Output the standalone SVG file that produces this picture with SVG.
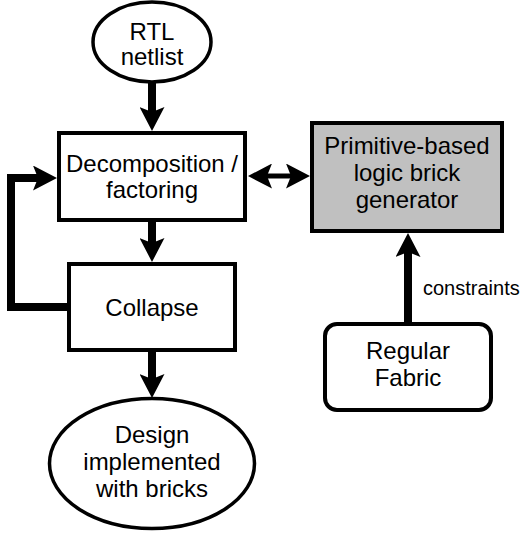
<svg xmlns="http://www.w3.org/2000/svg" width="525" height="533" viewBox="0 0 525 533">
<style>
.n{fill:#fff;stroke:#000;stroke-width:4}
.g{fill:#c0c0c0;stroke:#000;stroke-width:4}
.e{fill:#fff;stroke:#000;stroke-width:3.5}
.t{font-family:"Liberation Sans",Arial,sans-serif;font-size:24px;fill:#000;text-anchor:middle}
.c{fill:none;stroke:#000;stroke-width:8;stroke-linejoin:miter}
</style>
<defs>
<marker id="ah" viewBox="0 0 24 25" refX="5" refY="12.5" markerWidth="24" markerHeight="25" markerUnits="userSpaceOnUse" orient="auto-start-reverse">
<path d="M0,0 L24,12.5 L0,25 L5,12.5 Z" fill="#000"/>
</marker>
</defs>
<g id="connectors">
<path class="c" d="M152,82 V112" marker-end="url(#ah)"/>
<path class="c" d="M152,222 V243" marker-end="url(#ah)"/>
<path class="c" d="M152,352 V379" marker-end="url(#ah)"/>
<path class="c" d="M67,307 H11 V178 H38" marker-end="url(#ah)"/>
<path class="c" style="stroke-width:5" d="M267,176 H291" marker-start="url(#ah)" marker-end="url(#ah)"/>
<path class="c" d="M408,322 V252" marker-end="url(#ah)"/>
<text class="t" x="423" y="295" style="font-size:20px;text-anchor:start">constraints</text>
</g>
<g id="rtl">
<ellipse class="e" cx="152" cy="42" rx="59" ry="40"/>
<text class="t" x="152" y="40">RTL</text>
<text class="t" x="152" y="65">netlist</text>
</g>
<g id="decomp">
<rect class="n" x="59" y="133" width="186" height="87"/>
<text class="t" x="152" y="172">Decomposition /</text>
<text class="t" x="152" y="198">factoring</text>
</g>
<g id="generator">
<rect class="g" x="312" y="123" width="190" height="108"/>
<text class="t" x="407" y="154">Primitive-based</text>
<text class="t" x="407" y="181">logic brick</text>
<text class="t" x="407" y="208">generator</text>
</g>
<g id="collapse">
<rect class="n" x="69" y="264" width="166" height="86"/>
<text class="t" x="152" y="316">Collapse</text>
</g>
<g id="fabric">
<rect class="n" x="325" y="324" width="166" height="86" rx="12" ry="12"/>
<text class="t" x="408" y="359">Regular</text>
<text class="t" x="408" y="386">Fabric</text>
</g>
<g id="design">
<ellipse class="e" cx="152" cy="463.5" rx="102.5" ry="65"/>
<text class="t" x="152" y="443">Design</text>
<text class="t" x="152" y="470">implemented</text>
<text class="t" x="152" y="497">with bricks</text>
</g>
</svg>
